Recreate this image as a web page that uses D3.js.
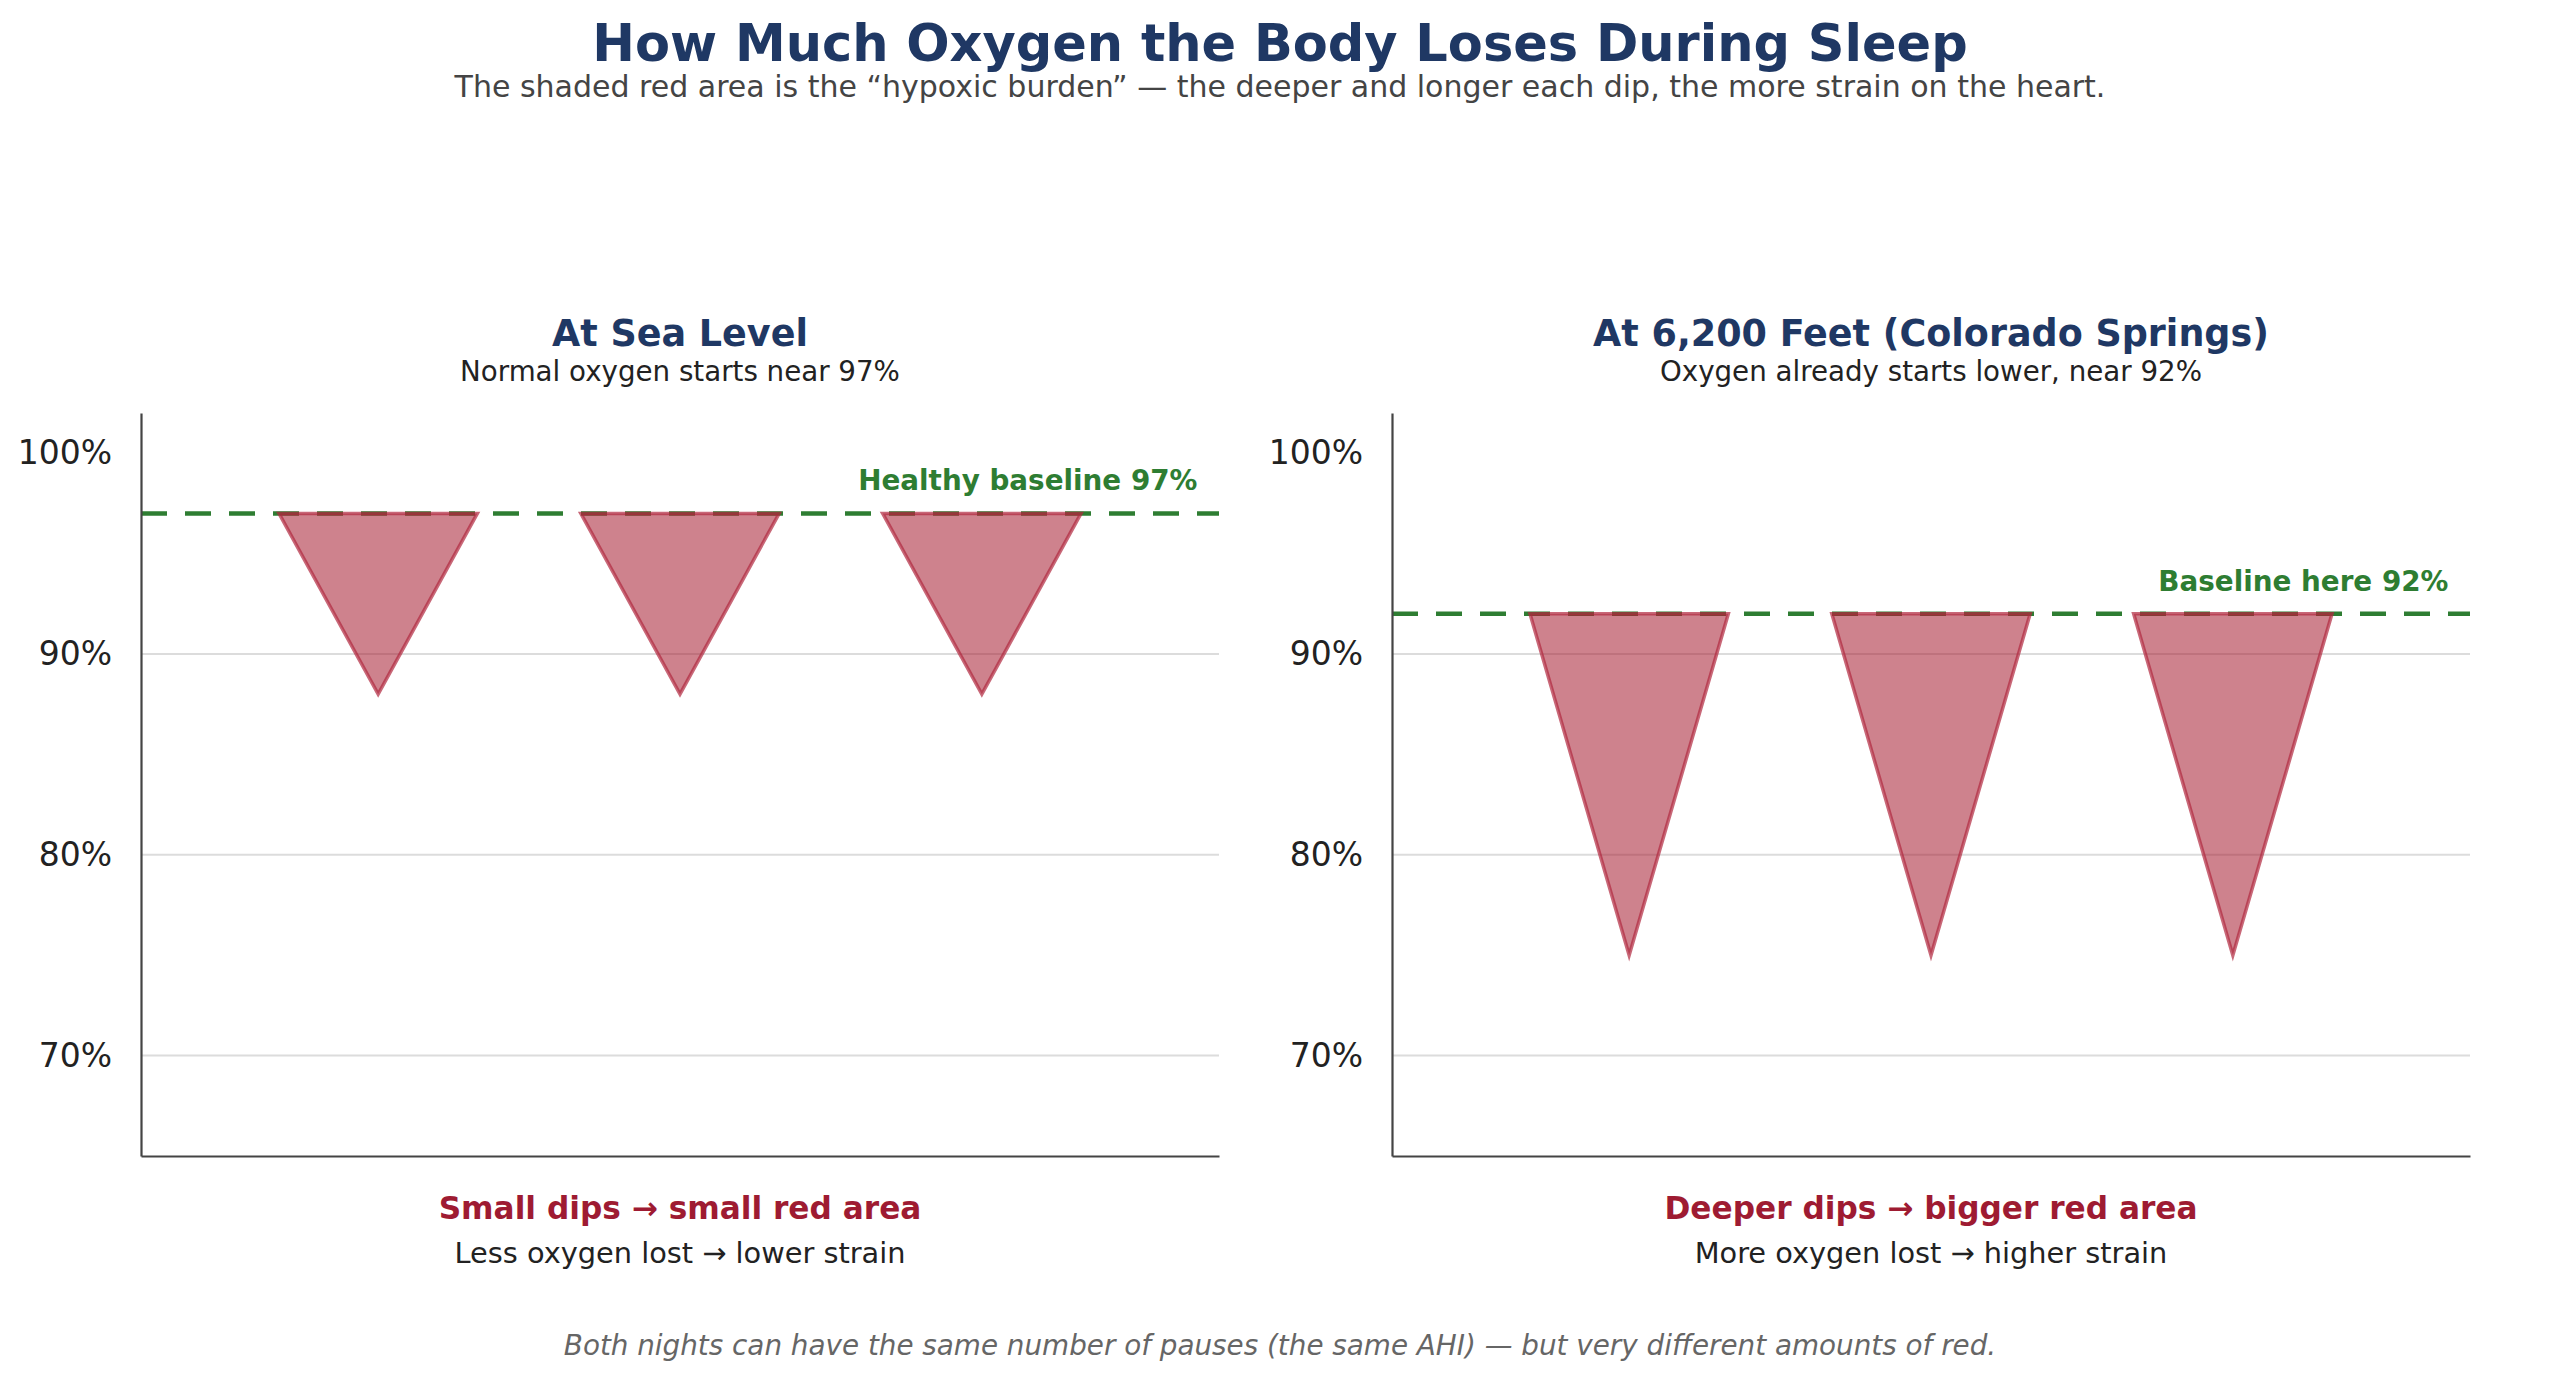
<!DOCTYPE html>
<html>
<head>
<meta charset="utf-8">
<script src="https://cdn.jsdelivr.net/npm/d3@7"></script>
<style>
  body { margin: 0; background: #fff; }
  svg { display: block; font-family: 'DejaVu Sans', sans-serif; }
</style>
</head>
<body>
<script>
'use strict';

// ---- data ----
var PANEL_TITLES = ['At Sea Level', 'At 6,200 Feet (Colorado Springs)'];
var PANEL_SUBTITLES = ['Normal oxygen starts near 97%', 'Oxygen already starts lower, near 92%'];
var BASELINES = [97, 92];          // % SpO2 before each pause
var DIP_LOWS = [88, 75];           // % SpO2 at the bottom of each dip
var BASELINE_LABELS = ['Healthy baseline 97%', 'Baseline here 92%'];
var TAKEAWAYS = ['Small dips \u2192 small red area', 'Deeper dips \u2192 bigger red area'];
var TAKEAWAY_NOTES = ['Less oxygen lost \u2192 lower strain', 'More oxygen lost \u2192 higher strain'];

var DIP_START = [12.8, 40.8, 68.8];   // time, arbitrary units 0-100
var DIP_BOTTOM = [22, 50, 78];
var DIP_END = [31.2, 59.2, 87.2];
var LABEL_X = 98;

var Y_TICKS = [70, 80, 90, 100];
var GRID_LINES = [70, 80, 90];
var X_DOMAIN = [0, 100];
var Y_DOMAIN = [65, 102];

var TITLE = 'How Much Oxygen the Body Loses During Sleep';
var SUBTITLE = 'The shaded red area is the \u201chypoxic burden\u201d \u2014 the deeper and longer each dip, the more strain on the heart.';
var FOOTNOTE = 'Both nights can have the same number of pauses (the same AHI) \u2014 but very different amounts of red.';

// ---- layout ----
var WIDTH = 2560, HEIGHT = 1376;
var PANEL_LEFT = [141, 1392];
var PANEL_W = 1078;
var PLOT_TOP = 413, PLOT_BOTTOM = 1156;

var NAVY = '#1f3864';
var GREEN = '#2e7d32';
var RED = '#a51c30';
var TEXT = '#222';

var svg = d3.select('body').append('svg')
  .attr('width', WIDTH)
  .attr('height', HEIGHT);

svg.append('rect').attr('width', WIDTH).attr('height', HEIGHT).attr('fill', '#fff');

svg.append('text')
  .attr('x', WIDTH / 2).attr('y', 61)
  .attr('text-anchor', 'middle')
  .attr('font-size', 51).attr('font-weight', 'bold')
  .attr('fill', NAVY)
  .text(TITLE);

svg.append('text')
  .attr('x', WIDTH / 2).attr('y', 97)
  .attr('text-anchor', 'middle')
  .attr('font-size', 30)
  .attr('fill', '#444')
  .text(SUBTITLE);

/**
 * Draws one altitude panel.
 * @param {number} i - panel index.
 */
function drawPanel_(i) {
  var x = d3.scaleLinear().domain(X_DOMAIN).range([PANEL_LEFT[i], PANEL_LEFT[i] + PANEL_W]);
  var y = d3.scaleLinear().domain(Y_DOMAIN).range([PLOT_BOTTOM, PLOT_TOP]);
  var cx = PANEL_LEFT[i] + PANEL_W / 2;
  var g = svg.append('g');

  g.append('text')
    .attr('x', cx).attr('y', 346)
    .attr('text-anchor', 'middle')
    .attr('font-size', 36.5).attr('font-weight', 'bold')
    .attr('fill', NAVY)
    .text(PANEL_TITLES[i]);

  g.append('text')
    .attr('x', cx).attr('y', 381)
    .attr('text-anchor', 'middle')
    .attr('font-size', 27.7)
    .attr('fill', TEXT)
    .text(PANEL_SUBTITLES[i]);

  // grid
  g.selectAll('line.grid')
    .data(GRID_LINES)
    .enter().append('line')
    .attr('class', 'grid')
    .attr('x1', x(X_DOMAIN[0])).attr('x2', x(X_DOMAIN[1]))
    .attr('y1', function(d) { return y(d); })
    .attr('y2', function(d) { return y(d); })
    .attr('stroke', '#dcdcdc')
    .attr('stroke-width', 2);

  // baseline
  g.append('line')
    .attr('x1', x(X_DOMAIN[0])).attr('x2', x(X_DOMAIN[1]))
    .attr('y1', y(BASELINES[i])).attr('y2', y(BASELINES[i]))
    .attr('stroke', GREEN)
    .attr('stroke-width', 4.5)
    .attr('stroke-dasharray', '26,18');

  g.append('text')
    .attr('x', x(LABEL_X)).attr('y', y(BASELINES[i]) - 23)
    .attr('text-anchor', 'end')
    .attr('font-size', 27.8).attr('font-weight', 'bold')
    .attr('fill', GREEN)
    .text(BASELINE_LABELS[i]);

  // dips
  var line = d3.line()
    .x(function(d) { return x(d[0]); })
    .y(function(d) { return y(d[1]); });

  var dips = DIP_BOTTOM.map(function(b, k) {
    return [[DIP_START[k], BASELINES[i]], [b, DIP_LOWS[i]], [DIP_END[k], BASELINES[i]]];
  });

  g.selectAll('path.dip')
    .data(dips)
    .enter().append('path')
    .attr('class', 'dip')
    .attr('d', function(d) { return line(d) + 'Z'; })
    .attr('fill', RED)
    .attr('fill-opacity', 0.55)
    .attr('stroke', '#b0283f')
    .attr('stroke-opacity', 0.7)
    .attr('stroke-width', 3.5)
    .attr('stroke-linejoin', 'miter');

  // axes
  var yAxis = g.append('g')
    .attr('transform', 'translate(' + x(X_DOMAIN[0]) + ',0)')
    .call(d3.axisLeft(y).tickValues(Y_TICKS).tickSize(0).tickPadding(29)
      .tickFormat(function(d) { return d + '%'; }));
  yAxis.selectAll('text')
    .attr('font-size', 33)
    .attr('font-family', 'DejaVu Sans, sans-serif')
    .attr('fill', TEXT);
  yAxis.select('.domain').attr('stroke', '#444').attr('stroke-width', 2.2);

  var xAxis = g.append('g')
    .attr('transform', 'translate(0,' + y(Y_DOMAIN[0]) + ')')
    .call(d3.axisBottom(x).tickValues([]).tickSizeOuter(0));
  xAxis.select('.domain').attr('stroke', '#444').attr('stroke-width', 2.2);

  g.append('text')
    .attr('x', cx).attr('y', 1219)
    .attr('text-anchor', 'middle')
    .attr('font-size', 31.2).attr('font-weight', 'bold')
    .attr('fill', '#9e1b32')
    .text(TAKEAWAYS[i]);

  g.append('text')
    .attr('x', cx).attr('y', 1263)
    .attr('text-anchor', 'middle')
    .attr('font-size', 28.8)
    .attr('fill', TEXT)
    .text(TAKEAWAY_NOTES[i]);
}

drawPanel_(0);
drawPanel_(1);

svg.append('text')
  .attr('x', WIDTH / 2).attr('y', 1355)
  .attr('text-anchor', 'middle')
  .attr('font-size', 27.8).attr('font-style', 'italic')
  .attr('fill', '#666')
  .text(FOOTNOTE);
</script>
</body>
</html>
